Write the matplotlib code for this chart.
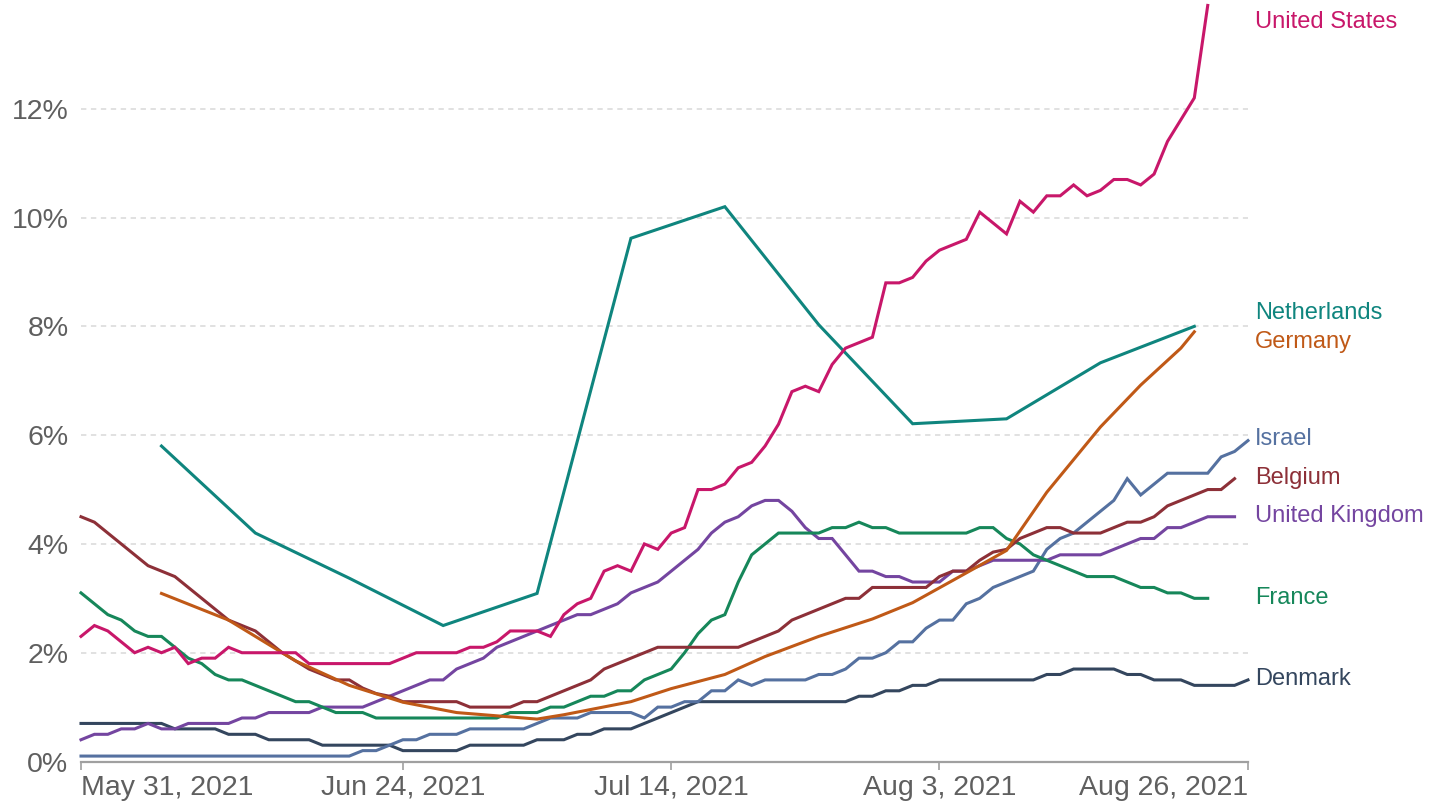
import matplotlib
matplotlib.use("Agg")
import matplotlib.pyplot as plt
import matplotlib.transforms as mtransforms
import pandas as pd

plt.rcParams["font.family"] = ["Liberation Sans", "DejaVu Sans"]

# daily series start on May 31, 2021 (share of people, %)
start = "2021-05-31"

united_states = [2.3, 2.5, 2.4, 2.2, 2.0, 2.1, 2.0, 2.1, 1.8, 1.9,
                 1.9, 2.1, 2.0, 2.0, 2.0, 2.0, 2.0, 1.8, 1.8, 1.8,
                 1.8, 1.8, 1.8, 1.8, 1.9, 2.0, 2.0, 2.0, 2.0, 2.1,
                 2.1, 2.2, 2.4, 2.4, 2.4, 2.3, 2.7, 2.9, 3.0, 3.5,
                 3.6, 3.5, 4.0, 3.9, 4.2, 4.3, 5.0, 5.0, 5.1, 5.4,
                 5.5, 5.8, 6.2, 6.8, 6.9, 6.8, 7.3, 7.6, 7.7, 7.8,
                 8.8, 8.8, 8.9, 9.2, 9.4, 9.5, 9.6, 10.1, 9.9, 9.7,
                 10.3, 10.1, 10.4, 10.4, 10.6, 10.4, 10.5, 10.7, 10.7, 10.6,
                 10.8, 11.4, 11.8, 12.2, 13.9]

belgium = [4.5, 4.4, 4.2, 4.0, 3.8, 3.6, 3.5, 3.4, 3.2, 3.0,
           2.8, 2.6, 2.5, 2.4, 2.2, 2.0, 1.85, 1.7, 1.6, 1.5,
           1.5, 1.35, 1.25, 1.2, 1.1, 1.1, 1.1, 1.1, 1.1, 1.0,
           1.0, 1.0, 1.0, 1.1, 1.1, 1.2, 1.3, 1.4, 1.5, 1.7,
           1.8, 1.9, 2.0, 2.1, 2.1, 2.1, 2.1, 2.1, 2.1, 2.1,
           2.2, 2.3, 2.4, 2.6, 2.7, 2.8, 2.9, 3.0, 3.0, 3.2,
           3.2, 3.2, 3.2, 3.2, 3.4, 3.5, 3.5, 3.7, 3.85, 3.9,
           4.1, 4.2, 4.3, 4.3, 4.2, 4.2, 4.2, 4.3, 4.4, 4.4,
           4.5, 4.7, 4.8, 4.9, 5.0, 5.0, 5.2]

france = [3.1, 2.9, 2.7, 2.6, 2.4, 2.3, 2.3, 2.1, 1.9, 1.8,
          1.6, 1.5, 1.5, 1.4, 1.3, 1.2, 1.1, 1.1, 1.0, 0.9,
          0.9, 0.9, 0.8, 0.8, 0.8, 0.8, 0.8, 0.8, 0.8, 0.8,
          0.8, 0.8, 0.9, 0.9, 0.9, 1.0, 1.0, 1.1, 1.2, 1.2,
          1.3, 1.3, 1.5, 1.6, 1.7, 2.0, 2.35, 2.6, 2.7, 3.3,
          3.8, 4.0, 4.2, 4.2, 4.2, 4.2, 4.3, 4.3, 4.4, 4.3,
          4.3, 4.2, 4.2, 4.2, 4.2, 4.2, 4.2, 4.3, 4.3, 4.1,
          4.0, 3.8, 3.7, 3.6, 3.5, 3.4, 3.4, 3.4, 3.3, 3.2,
          3.2, 3.1, 3.1, 3.0, 3.0]

united_kingdom = [0.4, 0.5, 0.5, 0.6, 0.6, 0.7, 0.6, 0.6, 0.7, 0.7,
                  0.7, 0.7, 0.8, 0.8, 0.9, 0.9, 0.9, 0.9, 1.0, 1.0,
                  1.0, 1.0, 1.1, 1.2, 1.3, 1.4, 1.5, 1.5, 1.7, 1.8,
                  1.9, 2.1, 2.2, 2.3, 2.4, 2.5, 2.6, 2.7, 2.7, 2.8,
                  2.9, 3.1, 3.2, 3.3, 3.5, 3.7, 3.9, 4.2, 4.4, 4.5,
                  4.7, 4.8, 4.8, 4.6, 4.3, 4.1, 4.1, 3.8, 3.5, 3.5,
                  3.4, 3.4, 3.3, 3.3, 3.3, 3.5, 3.5, 3.6, 3.7, 3.7,
                  3.7, 3.7, 3.7, 3.8, 3.8, 3.8, 3.8, 3.9, 4.0, 4.1,
                  4.1, 4.3, 4.3, 4.4, 4.5, 4.5, 4.5]

israel = [0.1, 0.1, 0.1, 0.1, 0.1, 0.1, 0.1, 0.1, 0.1, 0.1,
          0.1, 0.1, 0.1, 0.1, 0.1, 0.1, 0.1, 0.1, 0.1, 0.1,
          0.1, 0.2, 0.2, 0.3, 0.4, 0.4, 0.5, 0.5, 0.5, 0.6,
          0.6, 0.6, 0.6, 0.6, 0.7, 0.8, 0.8, 0.8, 0.9, 0.9,
          0.9, 0.9, 0.8, 1.0, 1.0, 1.1, 1.1, 1.3, 1.3, 1.5,
          1.4, 1.5, 1.5, 1.5, 1.5, 1.6, 1.6, 1.7, 1.9, 1.9,
          2.0, 2.2, 2.2, 2.45, 2.6, 2.6, 2.9, 3.0, 3.2, 3.3,
          3.4, 3.5, 3.9, 4.1, 4.2, 4.4, 4.6, 4.8, 5.2, 4.9,
          5.1, 5.3, 5.3, 5.3, 5.3, 5.6, 5.7, 5.9]

denmark = [0.7, 0.7, 0.7, 0.7, 0.7, 0.7, 0.7, 0.6, 0.6, 0.6,
           0.6, 0.5, 0.5, 0.5, 0.4, 0.4, 0.4, 0.4, 0.3, 0.3,
           0.3, 0.3, 0.3, 0.3, 0.2, 0.2, 0.2, 0.2, 0.2, 0.3,
           0.3, 0.3, 0.3, 0.3, 0.4, 0.4, 0.4, 0.5, 0.5, 0.6,
           0.6, 0.6, 0.7, 0.8, 0.9, 1.0, 1.1, 1.1, 1.1, 1.1,
           1.1, 1.1, 1.1, 1.1, 1.1, 1.1, 1.1, 1.1, 1.2, 1.2,
           1.3, 1.3, 1.4, 1.4, 1.5, 1.5, 1.5, 1.5, 1.5, 1.5,
           1.5, 1.5, 1.6, 1.6, 1.7, 1.7, 1.7, 1.7, 1.6, 1.6,
           1.5, 1.5, 1.5, 1.4, 1.4, 1.4, 1.4, 1.5]

# weekly / sparse series
netherlands_dates = ["2021-06-06", "2021-06-13", "2021-06-20", "2021-06-27",
                     "2021-07-04", "2021-07-11", "2021-07-18", "2021-07-25",
                     "2021-08-01", "2021-08-08", "2021-08-15", "2021-08-22"]
netherlands = [5.8, 4.2, 3.37, 2.5, 3.09, 9.62, 10.2, 8.03, 6.21, 6.3, 7.33, 8.0]

germany_dates = ["2021-06-06", "2021-06-11", "2021-06-16", "2021-06-20",
                 "2021-06-24", "2021-06-28", "2021-07-04", "2021-07-06",
                 "2021-07-11", "2021-07-14", "2021-07-18", "2021-07-21",
                 "2021-07-25", "2021-07-29", "2021-08-01", "2021-08-04",
                 "2021-08-08", "2021-08-11", "2021-08-15", "2021-08-18",
                 "2021-08-21", "2021-08-22"]
germany = [3.09, 2.6, 1.85, 1.4, 1.09, 0.9, 0.78, 0.86, 1.1, 1.34, 1.6,
           1.93, 2.3, 2.62, 2.92, 3.33, 3.88, 4.95, 6.15, 6.92, 7.6, 7.9]

tick_dates = ["2021-05-31", "2021-06-24", "2021-07-14", "2021-08-03", "2021-08-26"]
tick_labels = ["May 31, 2021", "Jun 24, 2021", "Jul 14, 2021", "Aug 3, 2021", "Aug 26, 2021"]
y_ticks = [0, 2, 4, 6, 8, 10, 12]

colors = {
    "United States": "#c8176a",
    "Netherlands": "#0f857e",
    "Germany": "#c05917",
    "Israel": "#5571a0",
    "Belgium": "#8d3038",
    "United Kingdom": "#7445a0",
    "France": "#16875a",
    "Denmark": "#34465e",
}
# vertical position of the end labels (in % units)
label_y = {
    "United States": 13.6, "Netherlands": 8.25, "Germany": 7.72,
    "Israel": 5.93, "Belgium": 5.22, "United Kingdom": 4.52,
    "France": 3.01, "Denmark": 1.51,
}


def daily(values):
    return pd.date_range(start, periods=len(values), freq="D")


series = [
    ("Denmark", daily(denmark), denmark),
    ("Israel", daily(israel), israel),
    ("United Kingdom", daily(united_kingdom), united_kingdom),
    ("France", daily(france), france),
    ("Belgium", daily(belgium), belgium),
    ("Germany", pd.to_datetime(germany_dates), germany),
    ("Netherlands", pd.to_datetime(netherlands_dates), netherlands),
    ("United States", daily(united_states), united_states),
]

fig = plt.figure(figsize=(14.31, 8.06), dpi=100)
ax = fig.add_axes([0.0566, 0.0552, 0.8155, 0.9448])

for yv in y_ticks[1:]:
    ax.axhline(yv, color="#d9d9d9", lw=1.1, dashes=(3.5, 3), zorder=1)

for name, x, y in series:
    ax.plot(x, y, color=colors[name], lw=2.2, solid_joinstyle="miter",
            zorder=3, clip_on=False)

trans = mtransforms.blended_transform_factory(ax.transAxes, ax.transData)
for name, yv in label_y.items():
    ax.text(1.006, yv, name, transform=trans, color=colors[name],
            fontsize=17, va="center", ha="left")

ax.set_xlim(pd.Timestamp("2021-05-31"), pd.Timestamp("2021-08-26"))
ax.set_ylim(0, 14)

ax.set_xticks(pd.to_datetime(tick_dates))
ax.set_xticklabels(tick_labels)
labels = ax.get_xticklabels()
labels[0].set_horizontalalignment("left")
labels[-1].set_horizontalalignment("right")

ax.set_yticks(y_ticks)
ax.set_yticklabels([f"{v}%" for v in y_ticks])

for side in ["top", "right", "left"]:
    ax.spines[side].set_visible(False)
ax.spines["bottom"].set_color("#a0a0a0")
ax.spines["bottom"].set_linewidth(1.6)
ax.tick_params(axis="x", length=6, width=1.2, color="#a0a0a0",
               labelsize=20.5, labelcolor="#5f5f5f", pad=3.5)
ax.tick_params(axis="y", length=0, labelsize=20.5, labelcolor="#5f5f5f", pad=9)

fig.savefig("out.png", dpi=100, facecolor="white")
